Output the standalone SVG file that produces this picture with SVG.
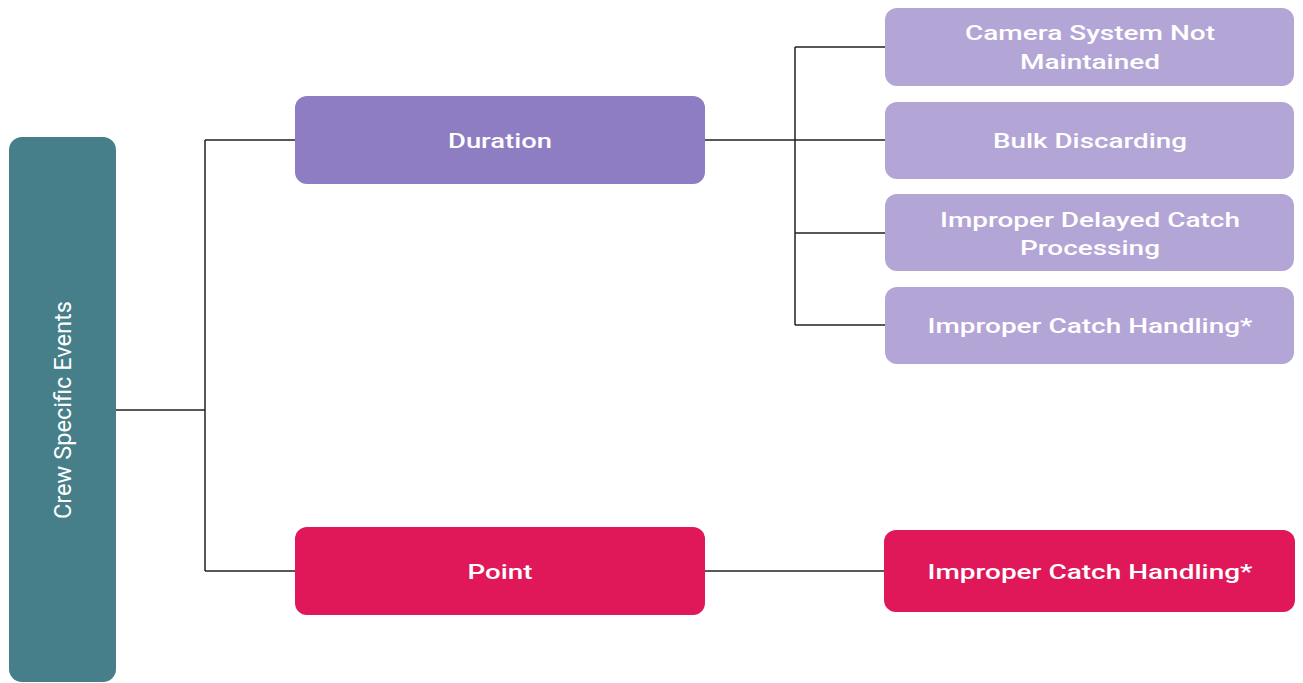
<svg xmlns="http://www.w3.org/2000/svg" width="1303" height="683" viewBox="0 0 1303 683">
<style>
.t{font-family:Roboto,"Liberation Sans",sans-serif;font-weight:500;font-size:21px;fill:#ffffff;text-anchor:middle}
.c{fill:none;stroke:#222222;stroke-width:1.5}
</style>
<rect width="1303" height="683" fill="#ffffff"/>
<g id="connectors">
<path class="c" d="M116 410H205M205 140V571M205 140H295M205 571H295"/>
<path class="c" d="M705 140H885M795 47V325M795 47H885M795 233H885M795 325H885"/>
<path class="c" d="M705 571H885"/>
</g>
<g id="root">
<rect x="9" y="137" width="107" height="545" rx="13" fill="#467f8a"/>
<text class="t" transform="translate(71 410) rotate(-90)" style="font-weight:400;font-size:24px" textLength="218" lengthAdjust="spacingAndGlyphs">Crew Specific Events</text>
</g>
<g id="duration">
<rect x="295" y="96" width="410" height="88" rx="12" fill="#8e7dc2"/>
<text class="t" x="500" y="148" textLength="104" lengthAdjust="spacingAndGlyphs">Duration</text>
</g>
<g id="point">
<rect x="295" y="527" width="410" height="88" rx="12" fill="#e0185a"/>
<text class="t" x="500" y="579" textLength="65" lengthAdjust="spacingAndGlyphs">Point</text>
</g>
<g id="camera">
<rect x="885" y="8" width="409" height="78" rx="12" fill="#b3a5d6"/>
<text class="t" x="1090" y="40" textLength="250" lengthAdjust="spacingAndGlyphs">Camera System Not</text>
<text class="t" x="1090" y="69" textLength="140" lengthAdjust="spacingAndGlyphs">Maintained</text>
</g>
<g id="bulk">
<rect x="885" y="102" width="409" height="77" rx="12" fill="#b3a5d6"/>
<text class="t" x="1090" y="148" textLength="194" lengthAdjust="spacingAndGlyphs">Bulk Discarding</text>
</g>
<g id="delayed">
<rect x="885" y="194" width="409" height="77" rx="12" fill="#b3a5d6"/>
<text class="t" x="1090" y="227" textLength="300" lengthAdjust="spacingAndGlyphs">Improper Delayed Catch</text>
<text class="t" x="1090" y="255" textLength="140" lengthAdjust="spacingAndGlyphs">Processing</text>
</g>
<g id="handling1">
<rect x="885" y="287" width="409" height="77" rx="12" fill="#b3a5d6"/>
<text class="t" x="1090" y="333" textLength="325" lengthAdjust="spacingAndGlyphs">Improper Catch Handling*</text>
</g>
<g id="handling2">
<rect x="884" y="530" width="411" height="82" rx="12" fill="#e0185a"/>
<text class="t" x="1090" y="579" textLength="325" lengthAdjust="spacingAndGlyphs">Improper Catch Handling*</text>
</g>
</svg>
